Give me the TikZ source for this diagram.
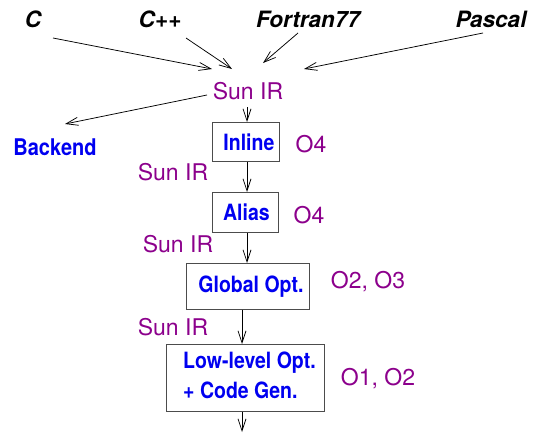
\documentclass[tikz,border=0pt]{standalone}
\usepackage{graphicx}
\usepackage{fontspec}
\setmainfont{TeX Gyre Heros}
\usetikzlibrary{arrows.meta}
\definecolor{irpurple}{RGB}{140,0,140}
\definecolor{bblue}{RGB}{0,0,240}
\newcommand{\bluetxt}[1]{\scalebox{1}[1.15]{#1}}
\begin{document}
\begin{tikzpicture}[x=1pt,y=-1pt,
  arr/.style={-{Straight Barb[length=12pt,width=8pt]}, line width=0.75pt},
  lang/.style={font=\fontsize{22.5}{26}\selectfont\bfseries\itshape, inner sep=0},
  ir/.style={text=irpurple, font=\fontsize{23}{26}\selectfont, inner sep=0},
  blue/.style={text=bblue, font=\fontsize{19.5}{26}\selectfont\bfseries, inner sep=0},
  box/.style={blue, draw=black!70, line width=0.9pt, anchor=north west},
]
\useasboundingbox (0,0) rectangle (535,432);
% source languages
\node[lang] (c) at (33,19) {C};
\node[lang] (cpp) at (160,19) {C++};
\node[lang] (f77) at (308,19) {Fortran77};
\node[lang] (pas) at (491,19) {Pascal};
% IR labels
\node[ir] (ir0) at (248,91.5) {Sun IR};
\node[ir] (ir1) at (173,172.5) {Sun IR};
\node[ir] (ir2) at (178,244.5) {Sun IR};
\node[ir] (ir3) at (173,327) {Sun IR};
\node[blue, font=\fontsize{20}{26}\selectfont\bfseries] (back) at (55,147) {\bluetxt{Backend}};
% boxes
\node[box, minimum width=67, minimum height=39] (inl) at (212,122) {\bluetxt{\hspace*{6pt}Inline}};
\node[box, minimum width=66, minimum height=40] (ali) at (212,192) {\bluetxt{\hspace*{2pt}Alias}};
\node[box, minimum width=123, minimum height=46] (glo) at (186,263) {\bluetxt{\hspace*{6pt}Global Opt.}};
\node[box, minimum width=158, minimum height=67] (low) at (166,344)
  {\bluetxt{\begin{tabular}{@{\hspace*{8pt}}l@{}}Low-level Opt.\\+ Code Gen.\end{tabular}}};
% optimisation levels
\node[ir] (o4a) at (311,144) {O4};
\node[ir] (o4b) at (309,215) {O4};
\node[ir] (o23) at (368,282) {O2, O3};
\node[ir] (o12) at (378,378.5) {O1, O2};
% connector end points
\coordinate (cS) at (53,38);    \coordinate (cE) at (212,69);
\coordinate (cppS) at (186,38); \coordinate (cppE) at (232,69);
\coordinate (fS) at (298,33);   \coordinate (fE) at (263,63);
\coordinate (pS) at (483,33);   \coordinate (pE) at (304,69);
\coordinate (irB) at (207,95);  \coordinate (bE) at (65,124);
\coordinate (irD) at (247,107);
\coordinate (colB) at (242,0);
\coordinate (out) at (242,432);
% connectors
\draw[arr] (cS) -- (cE);
\draw[arr] (cppS) -- (cppE);
\draw[arr] (fS) -- (fE);
\draw[arr] (pS) -- (pE);
\draw[arr] (irB) -- (bE);
\draw[arr] (irD) -- (irD |- inl.north);
\draw[arr] (inl.south -| irD) -- (ali.north -| irD);
\draw[arr] (ali.south -| irD) -- (glo.north -| irD);
\draw[arr] (glo.south -| colB) -- (low.north -| colB);
\draw[arr] (low.south -| colB) -- (out);
\end{tikzpicture}
\end{document}
